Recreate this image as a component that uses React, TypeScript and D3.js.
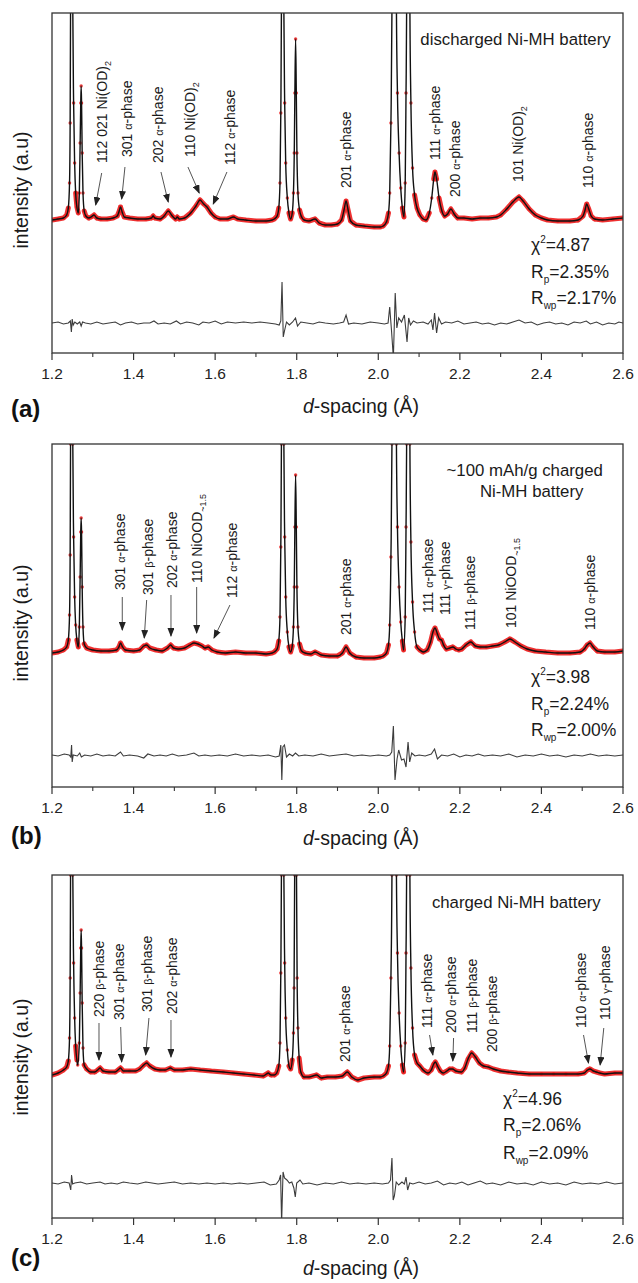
import React from "react";
import * as d3 from "d3";

// ---------- axis ----------
const X_DOMAIN: [number, number] = [1.2, 2.6];
const X_MAJOR = [1.2, 1.4, 1.6, 1.8, 2.0, 2.2, 2.4, 2.6];
const X_MINOR = [1.3, 1.5, 1.7, 1.9, 2.1, 2.3, 2.5];
const X_TICK_LABELS = ["1.2", "1.4", "1.6", "1.8", "2.0", "2.2", "2.4", "2.6"];

// ---------- (a) discharged: observed / calculated profile (d, intensity a.u.) ----------
const profileA: [number, number][] = [
  [1.2, 133], [1.215, 134], [1.228, 135], [1.236, 138], [1.24, 145], [1.243, 170], [1.2445, 230], [1.2455, 343],
  [1.247, 700], [1.2482, 1500], [1.2495, 700], [1.251, 343], [1.253, 250], [1.2555, 190], [1.258, 160], [1.261, 146],
  [1.2645, 140], [1.267, 160], [1.269, 210], [1.2705, 250], [1.2715, 267], [1.2725, 250], [1.274, 200], [1.276, 160],
  [1.279, 142], [1.283, 137], [1.29, 135], [1.296, 136], [1.303, 138], [1.31, 135], [1.32, 134], [1.335, 134],
  [1.35, 135], [1.36, 137], [1.364, 141], [1.368, 146], [1.372, 141], [1.377, 136], [1.39, 135], [1.41, 134],
  [1.43, 134], [1.444, 135], [1.448, 137], [1.452, 135], [1.465, 134], [1.475, 137], [1.485, 142], [1.495, 137],
  [1.503, 134], [1.507, 136], [1.512, 134], [1.525, 135], [1.54, 140], [1.553, 147], [1.563, 153], [1.572, 149],
  [1.58, 146], [1.59, 140], [1.6, 136], [1.612, 134], [1.63, 134], [1.645, 136], [1.655, 134], [1.675, 133],
  [1.7, 132], [1.725, 132], [1.74, 133], [1.745, 134], [1.752, 137], [1.756, 145], [1.759, 170], [1.761, 240],
  [1.7625, 343], [1.764, 700], [1.7655, 1500], [1.767, 700], [1.7685, 343], [1.7705, 250], [1.773, 190], [1.777, 155],
  [1.781, 140], [1.785, 134], [1.789, 140], [1.792, 160], [1.794, 200], [1.7955, 260], [1.7973, 314], [1.799, 260],
  [1.8005, 200], [1.803, 160], [1.807, 143], [1.812, 136], [1.818, 133], [1.83, 132], [1.845, 134], [1.855, 130],
  [1.87, 128], [1.885, 128], [1.9, 129], [1.91, 133], [1.916, 143], [1.921, 152], [1.926, 143], [1.932, 132],
  [1.945, 128], [1.965, 127], [1.99, 126], [2.005, 126], [2.012, 127], [2.02, 131], [2.025, 140], [2.028, 160],
  [2.031, 230], [2.0335, 343], [2.036, 700], [2.039, 1500], [2.042, 700], [2.0445, 343], [2.047, 260], [2.051, 200],
  [2.055, 165], [2.059, 145], [2.063, 136], [2.066, 170], [2.068, 260], [2.0695, 343], [2.0715, 700], [2.0735, 1500],
  [2.0755, 700], [2.0775, 343], [2.08, 250], [2.084, 185], [2.089, 158], [2.095, 145], [2.102, 138], [2.11, 134],
  [2.117, 133], [2.125, 140], [2.131, 155], [2.136, 174], [2.139, 181], [2.143, 174], [2.149, 155], [2.156, 142],
  [2.163, 137], [2.17, 139], [2.178, 144], [2.186, 139], [2.195, 135], [2.21, 135], [2.23, 134], [2.25, 135],
  [2.27, 135], [2.29, 136], [2.3, 138], [2.315, 144], [2.33, 151], [2.345, 156], [2.355, 152], [2.37, 144],
  [2.385, 138], [2.4, 135], [2.415, 133], [2.44, 132], [2.47, 132], [2.49, 133], [2.502, 137], [2.507, 143],
  [2.511, 149], [2.516, 144], [2.522, 137], [2.53, 134], [2.55, 133], [2.575, 134], [2.6, 135],
];

const diffA: [number, number][] = [
  [1.2, 30], [1.215, 31], [1.228, 29], [1.24, 30], [1.245, 32], [1.2475, 21], [1.2495, 34], [1.252, 28],
  [1.256, 31], [1.262, 29], [1.268, 31], [1.2715, 27], [1.275, 31], [1.282, 30], [1.295, 29], [1.31, 31],
  [1.325, 29], [1.34, 30], [1.355, 31], [1.368, 28], [1.38, 30], [1.395, 31], [1.41, 29], [1.425, 30],
  [1.44, 30], [1.45, 32], [1.46, 29], [1.475, 30], [1.49, 29], [1.505, 32], [1.515, 29], [1.53, 31],
  [1.545, 30], [1.56, 28], [1.57, 31], [1.585, 30], [1.6, 32], [1.615, 29], [1.63, 31], [1.65, 30],
  [1.67, 31], [1.69, 30], [1.71, 31], [1.73, 30], [1.748, 29], [1.757, 28], [1.761, 32], [1.764, 71],
  [1.767, 16], [1.77, 22], [1.775, 31], [1.782, 28], [1.79, 31], [1.797, 35], [1.802, 27], [1.81, 31],
  [1.825, 30], [1.84, 29], [1.855, 31], [1.87, 30], [1.89, 29], [1.905, 30], [1.915, 31], [1.921, 38],
  [1.927, 29], [1.94, 30], [1.96, 29], [1.98, 31], [2.0, 30], [2.015, 29], [2.024, 30], [2.028, 46],
  [2.0325, 22], [2.037, -5], [2.0415, 60], [2.0455, 25], [2.05, 35], [2.057, 31], [2.064, 38], [2.0705, 11],
  [2.0745, 35], [2.079, 28], [2.086, 32], [2.095, 30], [2.11, 31], [2.122, 29], [2.13, 33], [2.134, 23],
  [2.138, 40], [2.143, 20], [2.148, 35], [2.155, 29], [2.165, 31], [2.18, 30], [2.195, 32], [2.21, 29],
  [2.225, 30], [2.24, 31], [2.255, 29], [2.27, 30], [2.285, 28], [2.3, 30], [2.315, 29], [2.33, 31],
  [2.345, 33], [2.36, 30], [2.375, 31], [2.39, 28], [2.405, 30], [2.42, 31], [2.435, 29], [2.45, 30],
  [2.465, 28], [2.48, 31], [2.495, 30], [2.51, 32], [2.52, 29], [2.535, 31], [2.55, 28], [2.565, 30],
  [2.58, 29], [2.59, 31], [2.6, 30],
];

// ---------- (b) ~100 mAh/g charged ----------
const profileB: [number, number][] = [
  [1.2, 134], [1.215, 135], [1.228, 137], [1.236, 140], [1.24, 147], [1.243, 172], [1.2445, 232], [1.2455, 343],
  [1.247, 700], [1.2482, 1500], [1.2495, 700], [1.251, 343], [1.253, 250], [1.2555, 190], [1.258, 162], [1.261, 147],
  [1.2645, 140], [1.267, 160], [1.269, 210], [1.2705, 255], [1.2715, 269], [1.2725, 255], [1.274, 200], [1.276, 160],
  [1.279, 143], [1.285, 139], [1.3, 137], [1.32, 136], [1.34, 136], [1.358, 137], [1.364, 140], [1.368, 144],
  [1.373, 140], [1.38, 137], [1.4, 136], [1.415, 137], [1.425, 141], [1.432, 142], [1.44, 139], [1.455, 137],
  [1.47, 136], [1.483, 139], [1.491, 142], [1.498, 139], [1.51, 138], [1.525, 139], [1.538, 142], [1.548, 144],
  [1.558, 143], [1.568, 141], [1.575, 139], [1.583, 140], [1.592, 137], [1.605, 135], [1.625, 134], [1.65, 135],
  [1.675, 134], [1.7, 134], [1.725, 133], [1.74, 134], [1.745, 135], [1.752, 138], [1.756, 146], [1.759, 170],
  [1.761, 240], [1.7625, 343], [1.764, 700], [1.7655, 1500], [1.767, 700], [1.7685, 343], [1.7705, 250], [1.773, 190],
  [1.777, 155], [1.781, 140], [1.785, 135], [1.789, 141], [1.792, 160], [1.794, 200], [1.7955, 260], [1.7973, 312],
  [1.799, 260], [1.8005, 200], [1.803, 160], [1.807, 143], [1.812, 136], [1.82, 134], [1.835, 133], [1.845, 135],
  [1.86, 132], [1.88, 131], [1.9, 131], [1.912, 134], [1.921, 140], [1.93, 134], [1.945, 130], [1.965, 129],
  [1.99, 129], [2.005, 130], [2.012, 131], [2.02, 134], [2.025, 142], [2.028, 162], [2.031, 230], [2.0335, 343],
  [2.036, 700], [2.039, 1500], [2.042, 700], [2.0445, 343], [2.047, 260], [2.051, 200], [2.055, 165], [2.059, 146],
  [2.062, 137], [2.066, 170], [2.068, 260], [2.0695, 343], [2.0715, 700], [2.0735, 1500], [2.0755, 700], [2.0775, 343],
  [2.08, 245], [2.084, 185], [2.089, 155], [2.095, 140], [2.102, 137], [2.11, 135], [2.12, 137], [2.128, 145],
  [2.134, 155], [2.139, 159], [2.145, 153], [2.15, 148], [2.155, 147], [2.16, 142], [2.167, 138], [2.175, 139],
  [2.183, 140], [2.19, 138], [2.197, 137], [2.205, 138], [2.215, 142], [2.227, 145], [2.238, 141], [2.25, 140],
  [2.265, 140], [2.28, 141], [2.295, 142], [2.31, 145], [2.323, 148], [2.335, 145], [2.35, 141], [2.365, 138],
  [2.384, 136], [2.41, 135], [2.44, 134], [2.47, 134], [2.495, 135], [2.505, 138], [2.512, 142], [2.519, 144],
  [2.527, 140], [2.537, 136], [2.555, 135], [2.58, 135], [2.6, 136],
];

const diffB: [number, number][] = [
  [1.2, 32], [1.215, 31], [1.23, 33], [1.242, 32], [1.246, 30], [1.248, 42], [1.2495, 25], [1.252, 32],
  [1.262, 31], [1.268, 34], [1.272, 30], [1.28, 32], [1.295, 31], [1.31, 33], [1.325, 31], [1.34, 32],
  [1.355, 31], [1.368, 35], [1.375, 31], [1.39, 32], [1.41, 31], [1.425, 29], [1.435, 33], [1.45, 31],
  [1.465, 32], [1.48, 31], [1.495, 33], [1.51, 31], [1.53, 32], [1.548, 34], [1.56, 31], [1.575, 32],
  [1.59, 31], [1.61, 32], [1.63, 31], [1.65, 33], [1.67, 31], [1.69, 32], [1.71, 31], [1.73, 32],
  [1.748, 30], [1.757, 31], [1.761, 42], [1.7635, 7], [1.766, 40], [1.77, 42], [1.775, 30], [1.782, 33],
  [1.79, 31], [1.797, 34], [1.805, 31], [1.82, 32], [1.84, 31], [1.86, 33], [1.88, 31], [1.9, 32],
  [1.921, 33], [1.94, 31], [1.96, 32], [1.98, 31], [2.0, 32], [2.02, 31], [2.028, 32], [2.033, 35],
  [2.037, 61], [2.041, 7], [2.046, 28], [2.05, 37], [2.057, 27], [2.063, 28], [2.068, 20], [2.073, 45],
  [2.077, 25], [2.082, 34], [2.09, 31], [2.1, 32], [2.115, 31], [2.13, 33], [2.138, 38], [2.145, 28],
  [2.155, 32], [2.17, 31], [2.185, 33], [2.2, 30], [2.215, 32], [2.23, 31], [2.245, 33], [2.26, 31],
  [2.28, 32], [2.3, 31], [2.32, 33], [2.34, 30], [2.36, 32], [2.38, 31], [2.4, 33], [2.42, 31],
  [2.44, 32], [2.46, 30], [2.48, 32], [2.5, 31], [2.52, 33], [2.54, 31], [2.56, 32], [2.58, 31], [2.6, 32],
];

// ---------- (c) charged ----------
const profileC: [number, number][] = [
  [1.2, 143], [1.215, 145], [1.228, 148], [1.236, 151], [1.24, 157], [1.243, 180], [1.2445, 240], [1.2455, 343],
  [1.247, 700], [1.2482, 1500], [1.2495, 700], [1.251, 343], [1.253, 255], [1.2555, 200], [1.258, 172], [1.261, 158],
  [1.263, 153], [1.267, 175], [1.269, 225], [1.2705, 270], [1.2715, 288], [1.2725, 270], [1.274, 215], [1.276, 170],
  [1.279, 153], [1.285, 149], [1.295, 146], [1.305, 146], [1.312, 148], [1.318, 150], [1.325, 147], [1.34, 146],
  [1.355, 146], [1.362, 148], [1.368, 150], [1.375, 147], [1.39, 147], [1.405, 147], [1.415, 149], [1.425, 153],
  [1.432, 155], [1.44, 152], [1.452, 149], [1.465, 148], [1.478, 148], [1.49, 150], [1.5, 148], [1.52, 148],
  [1.54, 149], [1.563, 148], [1.59, 147], [1.62, 146], [1.645, 145], [1.67, 144], [1.695, 143], [1.718, 142],
  [1.726, 144], [1.73, 145], [1.737, 143], [1.745, 143], [1.751, 145], [1.756, 152], [1.759, 175], [1.761, 245],
  [1.7625, 343], [1.764, 700], [1.7655, 1500], [1.767, 700], [1.7685, 343], [1.7705, 255], [1.773, 200], [1.777, 168],
  [1.781, 152], [1.785, 149], [1.789, 158], [1.792, 185], [1.7935, 230], [1.795, 343], [1.7973, 700], [1.7995, 343],
  [1.801, 240], [1.803, 190], [1.806, 160], [1.81, 146], [1.818, 141], [1.83, 141], [1.849, 143], [1.86, 140],
  [1.875, 141], [1.895, 141], [1.912, 142], [1.924, 146], [1.935, 141], [1.95, 138], [1.965, 140], [1.99, 141],
  [2.005, 141], [2.012, 142], [2.02, 145], [2.025, 152], [2.028, 172], [2.031, 240], [2.0335, 343], [2.036, 700],
  [2.039, 1500], [2.042, 700], [2.0445, 343], [2.047, 265], [2.051, 205], [2.055, 172], [2.059, 153], [2.062, 146],
  [2.066, 175], [2.068, 265], [2.0695, 343], [2.0715, 700], [2.0735, 1500], [2.0755, 700], [2.0775, 343], [2.08, 250],
  [2.084, 190], [2.089, 163], [2.095, 155], [2.102, 152], [2.11, 148], [2.122, 145], [2.13, 148], [2.136, 154],
  [2.14, 156], [2.145, 152], [2.152, 147], [2.159, 145], [2.168, 147], [2.175, 149], [2.182, 149], [2.19, 147],
  [2.204, 146], [2.212, 150], [2.22, 159], [2.229, 165], [2.238, 161], [2.248, 155], [2.258, 152], [2.27, 151],
  [2.282, 149], [2.3, 147], [2.318, 146], [2.34, 145], [2.37, 144], [2.4, 144], [2.43, 144], [2.46, 144],
  [2.49, 144], [2.505, 145], [2.513, 148], [2.519, 149], [2.527, 147], [2.535, 146], [2.543, 145], [2.555, 144],
  [2.58, 145], [2.6, 145],
];

const diffC: [number, number][] = [
  [1.2, 35], [1.215, 34], [1.23, 36], [1.242, 35], [1.246, 28], [1.248, 43], [1.2505, 34], [1.256, 35],
  [1.27, 36], [1.285, 34], [1.3, 35], [1.318, 36], [1.33, 34], [1.345, 35], [1.36, 34], [1.375, 36],
  [1.39, 35], [1.41, 34], [1.43, 36], [1.445, 35], [1.46, 34], [1.48, 35], [1.5, 36], [1.52, 34],
  [1.54, 35], [1.56, 34], [1.58, 35], [1.6, 34], [1.62, 35], [1.64, 34], [1.66, 35], [1.68, 34],
  [1.7, 35], [1.72, 36], [1.735, 33], [1.75, 34], [1.757, 38], [1.7605, 43], [1.763, -5], [1.7665, 46],
  [1.77, 40], [1.776, 38], [1.782, 35], [1.788, 36], [1.793, 30], [1.7965, 21], [1.8, 35], [1.808, 38],
  [1.815, 34], [1.83, 35], [1.85, 33], [1.87, 35], [1.89, 34], [1.91, 36], [1.93, 34], [1.95, 35],
  [1.97, 34], [1.99, 35], [2.01, 34], [2.025, 35], [2.03, 38], [2.0335, 60], [2.0365, 18], [2.0395, 22],
  [2.044, 36], [2.05, 33], [2.058, 36], [2.064, 34], [2.068, 41], [2.072, 28], [2.077, 35], [2.085, 34],
  [2.1, 36], [2.115, 34], [2.13, 35], [2.145, 37], [2.16, 33], [2.175, 35], [2.19, 34], [2.205, 36],
  [2.22, 33], [2.235, 35], [2.25, 37], [2.265, 34], [2.28, 35], [2.3, 33], [2.32, 36], [2.34, 34],
  [2.36, 35], [2.38, 33], [2.4, 36], [2.42, 34], [2.44, 35], [2.46, 33], [2.48, 36], [2.5, 34],
  [2.52, 35], [2.54, 34], [2.56, 36], [2.58, 34], [2.6, 35],
];

// ---------- peak annotations: parts = [text, kind] (n normal, g greek, s subscript) ----------
type Part = [string, "n" | "g" | "s"];
type Ann = { parts: Part[]; d: number; v: number; arrow?: [number, number, number, number] };
const ph = (hkl: string, g: string): Part[] => [[hkl + " ", "n"], [g, "g"], ["-phase", "n"]];

const annotationsA: Ann[] = [
  { parts: [["112 021 Ni(OD)", "n"], ["2", "s"]], d: 1.3218, v: 190, arrow: [1.3218, 180, 1.3071, 148] },
  { parts: ph("301", "α"), d: 1.3831, v: 196, arrow: [1.3789, 186, 1.3708, 154] },
  { parts: ph("202", "α"), d: 1.4605, v: 190, arrow: [1.4672, 181, 1.485, 151] },
  { parts: [["110 Ni(OD)", "n"], ["2", "s"]], d: 1.5382, v: 196, arrow: [1.5333, 186, 1.561, 160] },
  { parts: ph("112", "α"), d: 1.6363, v: 188, arrow: [1.6289, 181, 1.5953, 149] },
  { parts: ph("201", "α"), d: 1.9213, v: 165 },
  { parts: ph("111", "α"), d: 2.138, v: 193 },
  { parts: ph("200", "α"), d: 2.187, v: 156 },
  { parts: [["101 Ni(OD)", "n"], ["2", "s"]], d: 2.3422, v: 171 },
  { parts: ph("110", "α"), d: 2.5154, v: 165 },
];

const annotationsB: Ann[] = [
  { parts: ph("301", "α"), d: 1.3667, v: 197, arrow: [1.3723, 190, 1.3723, 157] },
  { parts: ph("301", "β"), d: 1.436, v: 192, arrow: [1.4321, 187, 1.4262, 149] },
  { parts: ph("202 ", "α"), d: 1.4934, v: 199, arrow: [1.4917, 192, 1.4917, 151] },
  { parts: [["110 NiOOD", "n"], ["~1.5", "s"]], d: 1.5547, v: 204, arrow: [1.5547, 200, 1.5547, 154] },
  { parts: ph("112", "α"), d: 1.6404, v: 189, arrow: [1.6363, 182, 1.5971, 149] },
  { parts: ph("201", "α"), d: 1.9213, v: 152 },
  { parts: ph("111", "α"), d: 2.1216, v: 174 },
  { parts: ph("111", "γ"), d: 2.164, v: 172 },
  { parts: ph("111", "β"), d: 2.2238, v: 157 },
  { parts: [["101 NiOOD", "n"], ["~1.5", "s"]], d: 2.3257, v: 159 },
  { parts: ph("110", "α"), d: 2.5179, v: 157 },
];

const annotationsC: Ann[] = [
  { parts: ph("220", "β"), d: 1.3152, v: 201, arrow: [1.3152, 195, 1.3152, 158] },
  { parts: ph("301", "α"), d: 1.3642, v: 198, arrow: [1.3684, 191, 1.3708, 156] },
  { parts: ph("301", "β"), d: 1.4336, v: 206, arrow: [1.4377, 200, 1.4297, 163] },
  { parts: ph("202 ", "α"), d: 1.4934, v: 204, arrow: [1.4917, 198, 1.4917, 161] },
  { parts: ph("201", "α"), d: 1.9174, v: 156 },
  { parts: ph("111", "α"), d: 2.1199, v: 190, arrow: [2.1257, 183, 2.1338, 163] },
  { parts: ph("200", "α"), d: 2.1772, v: 185, arrow: [2.1846, 180, 2.1828, 157] },
  { parts: ph("111", "β"), d: 2.2294, v: 185 },
  { parts: ph("200", "β"), d: 2.2784, v: 166 },
  { parts: ph("110", "α"), d: 2.4973, v: 190, arrow: [2.5032, 183, 2.5154, 155] },
  { parts: ph("110", "γ"), d: 2.5547, v: 198, arrow: [2.5529, 190, 2.5439, 153] },
];

const titlesA = ["discharged Ni-MH battery"];
const titlesB = ["~100 mAh/g charged", "Ni-MH battery"];
const titlesC = ["charged Ni-MH battery"];
const statsA = ["4.87", "2.35%", "2.17%"];
const statsB = ["3.98", "2.24%", "2.00%"];
const statsC = ["4.96", "2.06%", "2.09%"];

// ---------- layout ----------
const W = 638;
const H = 1283;
const PLOT_LEFT = 52;
const PLOT_RIGHT = 623;
const FONT = "'Liberation Sans', Arial, Helvetica, sans-serif";
const RED = "#ec1c1c";

const panels = [
  { key: "a", tag: "(a)", top: 13, height: 340, profile: profileA, diff: diffA, ann: annotationsA,
    titles: titlesA, titlePos: [[515.5, 32]], stats: statsA, statsX: 531, statsY: [238, 265, 291],
    tagY: 417, xTitleY: 413, yLabelY: 190 },
  { key: "b", tag: "(b)", top: 444, height: 343, profile: profileB, diff: diffB, ann: annotationsB,
    titles: titlesB, titlePos: [[524.7, 32], [531.7, 53]], stats: statsB, statsX: 531, statsY: [239, 265.5, 292],
    tagY: 844, xTitleY: 845, yLabelY: 623 },
  { key: "c", tag: "(c)", top: 875, height: 343, profile: profileC, diff: diffC, ann: annotationsC,
    titles: titlesC, titlePos: [[516.3, 33]], stats: statsC, statsX: 503, statsY: [229.5, 256, 284],
    tagY: 1266, xTitleY: 1275, yLabelY: 1057 },
];

const x = d3.scaleLinear().domain(X_DOMAIN).range([PLOT_LEFT, PLOT_RIGHT]);

function RotLabel({ ann, y }: { ann: Ann; y: (v: number) => number }) {
  const cx = x(ann.d) + 5;
  const cy = y(ann.v);
  return (
    <text transform={`translate(${cx},${cy}) rotate(-90)`} fontFamily={FONT} fontSize={14} fill="#1a1a1a">
      {ann.parts.map(([t, k], i) =>
        k === "g" ? (
          <tspan key={i} fontSize={11}>{t}</tspan>
        ) : k === "s" ? (
          <tspan key={i} fontSize={9} dy={4}>{t}</tspan>
        ) : (
          <tspan key={i}>{t}</tspan>
        )
      )}
    </text>
  );
}

function Panel({ p }: { p: (typeof panels)[number] }) {
  const bottom = p.top + p.height;
  const y = d3.scaleLinear().domain([0, p.height]).range([bottom, p.top]);
  const clipId = `clip-${p.key}`;
  const calcLine = d3
    .line<[number, number]>()
    .x((d) => x(d[0]))
    .y((d) => y(d[1]))
    .curve(d3.curveMonotoneX);
  const diffLine = d3
    .line<[number, number]>()
    .x((d) => x(d[0]))
    .y((d) => y(d[1]));

  // observed data band: low-slope segments drawn as a thick band, steep/narrow parts show only the points
  const segs: string[] = [];
  for (let i = 0; i < p.profile.length - 1; i++) {
    const a = p.profile[i];
    const b = p.profile[i + 1];
    const ya = y(a[1]);
    const yb = y(b[1]);
    const dx = x(b[0]) - x(a[0]);
    if (Math.abs(yb - ya) <= 14 && dx >= 1.1) segs.push(`M${x(a[0])},${ya}L${x(b[0])},${yb}`);
  }

  return (
    <g>
      <defs>
        <clipPath id={clipId}>
          <rect x={PLOT_LEFT} y={p.top} width={PLOT_RIGHT - PLOT_LEFT} height={p.height} />
        </clipPath>
      </defs>
      <g clipPath={`url(#${clipId})`}>
        <path d={segs.join("")} fill="none" stroke={RED} strokeWidth={5} strokeLinecap="round" opacity={0.9} />
        {p.profile.map((d, i) => (
          <circle key={i} cx={x(d[0])} cy={y(d[1])} r={1.7} fill={RED} opacity={0.85} />
        ))}
        <path d={calcLine(p.profile) || ""} fill="none" stroke="#111" strokeWidth={1.4} />
        <path d={diffLine(p.diff) || ""} fill="none" stroke="#3c3c3c" strokeWidth={1.1} />
      </g>
      {/* frame */}
      <rect x={PLOT_LEFT} y={p.top} width={PLOT_RIGHT - PLOT_LEFT} height={p.height} fill="none" stroke="#333" strokeWidth={1.3} />
      {/* ticks */}
      {X_MAJOR.map((t, i) => (
        <g key={`M${i}`}>
          <line x1={x(t)} x2={x(t)} y1={bottom} y2={bottom + 7} stroke="#333" strokeWidth={1.2} />
          <text x={x(t)} y={bottom + 26} textAnchor="middle" fontFamily={FONT} fontSize={15.5} fill="#222">
            {X_TICK_LABELS[i]}
          </text>
        </g>
      ))}
      {X_MINOR.map((t, i) => (
        <line key={`m${i}`} x1={x(t)} x2={x(t)} y1={bottom} y2={bottom + 4} stroke="#333" strokeWidth={1.1} />
      ))}
      {/* axis titles */}
      <text x={361} y={p.xTitleY} textAnchor="middle" fontFamily={FONT} fontSize={19.5} fill="#1a1a1a">
        <tspan fontStyle="italic">d</tspan>-spacing (Å)
      </text>
      <text transform={`translate(28,${p.yLabelY}) rotate(-90)`} textAnchor="middle" fontFamily={FONT} fontSize={19.5} fill="#1a1a1a">
        intensity (a.u)
      </text>
      <text x={11} y={p.tagY} fontFamily={FONT} fontSize={24} fontWeight="bold" fill="#111">
        {p.tag}
      </text>
      {/* titles */}
      {p.titles.map((t, i) => (
        <text key={i} x={p.titlePos[i][0]} y={p.top + p.titlePos[i][1]} textAnchor="middle" fontFamily={FONT} fontSize={16.8} fill="#1a1a1a">
          {t}
        </text>
      ))}
      {/* stats */}
      <text x={p.statsX} y={p.top + p.statsY[0]} fontFamily={FONT} fontSize={17.5} fill="#1a1a1a">
        χ<tspan fontSize={10} dy={-8}>2</tspan>
        <tspan dy={8}>={p.stats[0]}</tspan>
      </text>
      <text x={p.statsX} y={p.top + p.statsY[1]} fontFamily={FONT} fontSize={17.5} fill="#1a1a1a">
        R<tspan fontSize={10} dy={5}>p</tspan>
        <tspan dy={-5}>={p.stats[1]}</tspan>
      </text>
      <text x={p.statsX} y={p.top + p.statsY[2]} fontFamily={FONT} fontSize={17.5} fill="#1a1a1a">
        R<tspan fontSize={10} dy={5}>wp</tspan>
        <tspan dy={-5}>={p.stats[2]}</tspan>
      </text>
      {/* annotations */}
      {p.ann.map((a, i) => (
        <g key={i}>
          <RotLabel ann={a} y={y} />
          {a.arrow && (
            <line
              x1={x(a.arrow[0])}
              y1={y(a.arrow[1])}
              x2={x(a.arrow[2])}
              y2={y(a.arrow[3])}
              stroke="#555"
              strokeWidth={1}
              markerEnd="url(#arrowhead)"
            />
          )}
        </g>
      ))}
    </g>
  );
}

export default function App() {
  return (
    <svg
      width={W}
      height={H}
      viewBox={`0 0 ${W} ${H}`}
      style={{ position: "absolute", left: 0, top: 0, display: "block", background: "#fff" }}
    >
      <defs>
        <marker id="arrowhead" markerUnits="userSpaceOnUse" markerWidth={9} markerHeight={7} refX={8} refY={3.5} orient="auto">
          <path d="M0,0 L9,3.5 L0,7 Z" fill="#222" />
        </marker>
      </defs>
      <rect x={0} y={0} width={W} height={H} fill="#fff" />
      {panels.map((p) => (
        <Panel key={p.key} p={p} />
      ))}
    </svg>
  );
}
